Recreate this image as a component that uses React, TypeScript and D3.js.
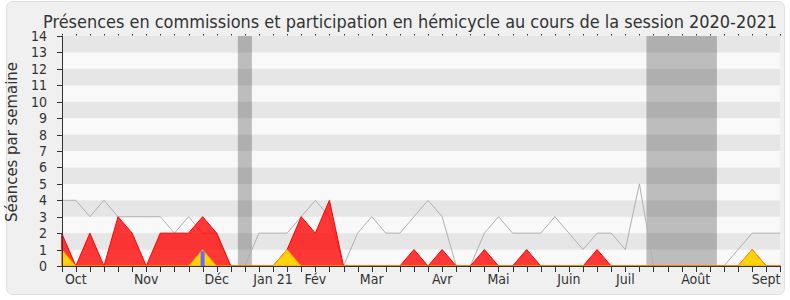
import React, { useEffect, useRef } from "react";
import * as d3 from "d3";

const weeks: number[] = d3.range(52);
const totalSeances: number[] = [4,4,3,4,3,3,3,3,2,3,2,2,0,0,2,2,2,3,4,3,0,2,3,2,2,3,4,3,0,0,2,3,2,2,2,3,2,1,2,2,1,5,0,0,0,0,0,0,1,2,2,2];
const presencesCommission: number[] = [2,0,2,0,3,2,0,2,2,2,3,2,0,0,0,0,1,3,2,4,0,0,0,0,0,1,0,1,0,0,1,0,0,1,0,0,0,0,1,0,0,0,0,0,0,0,0,0,0,1,0,0];
const participationHemicycle: number[] = [1,0,0,0,0,0,0,0,0,0,1,0,0,0,0,0,1,0,0,0,0,0,0,0,0,0,0,0,0,0,0,0,0,0,0,0,0,0,0,0,0,0,0,0,0,0,0,0,0,1,0,0];
const questionsWeeks: number[] = [10];
const questionsValues: number[] = [0.9];
const vacations: [number, number][] = [[12.5, 13.5], [41.5, 46.5]];
const monthLabels: string[] = ["Oct","Nov","Déc","Jan 21","Fév","Mar","Avr","Mai","Juin","Juil","Août","Sept"];
const monthWeeks: number[] = [1,6,11,15,18,22,27,31,36,40,45,50];
const yTicks: number[] = d3.range(0, 15);
const title = "Présences en commissions et participation en hémicycle au cours de la session 2020-2021";
const yLabel = "Séances par semaine";

const W = 790, H = 300;
const M = { left: 62, right: 780, top: 36, bottom: 266 };
const FONT = "'DejaVu Sans Condensed', 'DejaVu Sans', sans-serif";

export default function App() {
  const ref = useRef<SVGSVGElement>(null);
  useEffect(() => {
    const svg = d3.select(ref.current);
    svg.selectAll("*").remove();
    const x = d3.scaleLinear().domain([0, 51]).range([M.left - 0.3, M.right + 0.3]);
    const y = d3.scaleLinear().domain([0, 14]).range([M.bottom, M.top]);

    svg.append("rect").attr("x", 6.5).attr("y", 1.5).attr("width", 778).attr("height", 293)
      .attr("rx", 6).attr("fill", "#f0f0f0").attr("stroke", "#dedede");

    svg.append("text").attr("x", 410).attr("y", 28).attr("text-anchor", "middle")
      .attr("font-family", FONT).attr("font-size", 18).attr("fill", "#333")
      .attr("textLength", 734).attr("lengthAdjust", "spacingAndGlyphs").text(title);

    // bands
    const bands = svg.append("g");
    d3.range(14).forEach((k) => {
      bands.append("rect").attr("x", M.left).attr("width", M.right - M.left)
        .attr("y", y(k + 1)).attr("height", y(k) - y(k + 1))
        .attr("fill", k % 2 === 1 ? "#e6e6e6" : "#f9f9f9");
    });

    // vacations
    vacations.forEach(([a, b]) => {
      svg.append("rect").attr("x", x(a)).attr("width", x(b) - x(a))
        .attr("y", M.top).attr("height", M.bottom - M.top)
        .attr("fill", "#000").attr("opacity", 0.24);
    });

    // total line
    const line = d3.line<number>().x((d, i) => x(weeks[i])).y((d) => y(d));
    svg.append("path").attr("d", line(totalSeances)!).attr("fill", "none")
      .attr("stroke", "#b0b0b0").attr("stroke-width", 1);

    const area = d3.area<number>().x((d, i) => x(weeks[i])).y0(y(0)).y1((d) => y(d));
    svg.append("path").attr("d", area(presencesCommission)!).attr("fill", "rgba(255,0,0,0.78)")
      .attr("stroke", "#ff0000").attr("stroke-width", 1);
    svg.append("path").attr("d", area(participationHemicycle)!).attr("fill", "#ffd20a")
      .attr("stroke", "#ff9a00").attr("stroke-width", 1);

    questionsWeeks.forEach((w, i) => {
      svg.append("rect").attr("x", x(w) - 2).attr("width", 4)
        .attr("y", y(questionsValues[i])).attr("height", y(0) - y(questionsValues[i]))
        .attr("fill", "#6a6aff");
    });

    // axes
    const ax = svg.append("g").attr("stroke", "#333").attr("stroke-width", 1);
    ax.append("line").attr("x1", M.left + 0.5).attr("x2", M.left + 0.5).attr("y1", M.top).attr("y2", M.bottom);
    ax.append("line").attr("x1", M.left).attr("x2", M.right).attr("y1", M.bottom + 0.5).attr("y2", M.bottom + 0.5);
    yTicks.forEach((t) => {
      ax.append("line").attr("x1", 57).attr("x2", M.left).attr("y1", Math.round(y(t)) + 0.5).attr("y2", Math.round(y(t)) + 0.5);
    });
    weeks.forEach((w) => {
      const xx = Math.round(x(w)) + 0.5;
      ax.append("line").attr("x1", xx).attr("x2", xx).attr("y1", M.bottom).attr("y2", M.bottom + 6);
      ax.append("line").attr("x1", xx).attr("x2", xx).attr("y1", M.top - 2).attr("y2", M.top - 0.5);
    });

    svg.append("g").selectAll("text").data(yTicks).join("text")
      .attr("x", 47).attr("y", (d) => y(d)).attr("dy", "0.36em").attr("text-anchor", "end")
      .attr("font-family", FONT).attr("font-size", 14).attr("fill", "#333").text((d) => d);

    svg.append("g").selectAll("text").data(monthLabels).join("text")
      .attr("x", (d, i) => x(monthWeeks[i])).attr("y", 284).attr("text-anchor", "middle")
      .attr("font-family", FONT).attr("font-size", 14).attr("fill", "#333").text((d) => d);

    svg.append("text").attr("transform", `translate(17,142) rotate(-90)`).attr("text-anchor", "middle")
      .attr("font-family", FONT).attr("font-size", 15).attr("fill", "#333")
      .attr("textLength", 160).attr("lengthAdjust", "spacingAndGlyphs").text(yLabel);
  }, []);
  return (
    <svg ref={ref} width={W} height={H} style={{ position: "absolute", left: 0, top: 0 }} />
  );
}
